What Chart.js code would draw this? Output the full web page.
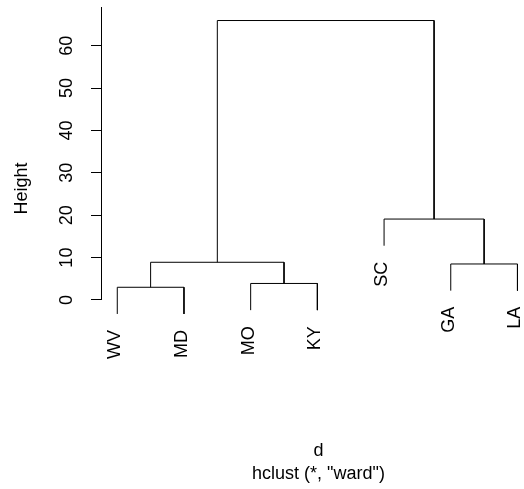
<!DOCTYPE html>
<html>
<head>
<meta charset="utf-8">
<script src="https://cdn.jsdelivr.net/npm/chart.js@4"></script>
<style>
  html, body { margin: 0; padding: 0; background: #fff; overflow: hidden; }
  canvas { display: block; }
</style>
</head>
<body>
<canvas id="dendro" width="536" height="489" style="width:536px;height:489px"></canvas>
<script>
// leaves in plotting order (position 1..7)
const leafLabels = ['WV', 'MD', 'MO', 'KY', 'SC', 'GA', 'LA'];

// merges, R style: negative = leaf position, positive = earlier merge
const mergeLeft   = [-1, -3, -6, 1, -5, 4];
const mergeRight  = [-2, -4, -7, 2, 3, 5];
const mergeHeight = [3.0, 3.9, 8.5, 8.9, 19.1, 65.95];

const yTicks = [0, 10, 20, 30, 40, 50, 60];

const FONT = '"Liberation Sans", Arial, sans-serif';

// hang = 10% of height range, like plot.hclust
const hang = 0.1 * (Math.max(...mergeHeight) - Math.min(...mergeHeight));

const clusterX = [];
function nodeX(id) {
  return id < 0 ? -id : clusterX[id - 1];
}
function nodeBottom(id, h) {
  return id < 0 ? h - hang : mergeHeight[id - 1];
}

const datasets = mergeHeight.map((h, i) => {
  const l = mergeLeft[i], r = mergeRight[i];
  const xl = nodeX(l), xr = nodeX(r);
  clusterX.push((xl + xr) / 2);
  return {
    data: [
      { x: xl, y: nodeBottom(l, h) },
      { x: xl, y: h },
      { x: xr, y: h },
      { x: xr, y: nodeBottom(r, h) }
    ],
    showLine: true,
    borderColor: '#000',
    borderWidth: 1,
    pointRadius: 0,
    tension: 0,
    fill: false,
    clip: false
  };
});

const leafPlugin = {
  id: 'leafPlugin',
  afterDraw(chart) {
    const { ctx, scales: { x, y }, chartArea } = chart;
    ctx.save();
    // vertical axis line from 0 up to the top of the plot
    const ax = Math.round(chartArea.left) + 0.5;
    ctx.strokeStyle = '#000';
    ctx.lineWidth = 1;
    ctx.beginPath();
    ctx.moveTo(ax, y.getPixelForValue(yTicks[0]));
    ctx.lineTo(ax, chartArea.top);
    ctx.stroke();

    // leaf labels, rotated, hanging under each leaf
    ctx.fillStyle = '#000';
    ctx.font = '18px ' + FONT;
    ctx.textAlign = 'right';
    ctx.textBaseline = 'middle';
    leafLabels.forEach((lab, i) => {
      const pos = i + 1;
      let h = 0;
      mergeHeight.forEach((mh, k) => {
        if (mergeLeft[k] === -pos || mergeRight[k] === -pos) h = mh;
      });
      const px = x.getPixelForValue(pos) - 2;
      const py = y.getPixelForValue(h - hang) + 16;
      ctx.save();
      ctx.translate(px, py);
      ctx.rotate(-Math.PI / 2);
      ctx.fillText(lab, 0, 0);
      ctx.restore();
    });
    ctx.restore();
  }
};

new Chart(document.getElementById('dendro'), {
  type: 'scatter',
  data: { datasets },
  options: {
    responsive: false,
    animation: false,
    layout: { padding: { top: 7, left: 0, right: 0, bottom: 0 } },
    plugins: {
      legend: { display: false },
      tooltip: { enabled: false }
    },
    scales: {
      x: {
        type: 'linear',
        min: 0.756,
        max: 7.278,
        grid: { display: false, drawTicks: false },
        border: { display: false },
        ticks: { display: false },
        title: {
          display: true,
          text: ['d', 'hclust (*, "ward")'],
          color: '#000',
          font: { family: FONT, size: 18, lineHeight: 1.28 },
          padding: { top: 0, bottom: 3 }
        },
        afterFit(scale) {
          scale.height = 119;
          scale.paddingLeft = 0;
          scale.paddingRight = 0;
        }
      },
      y: {
        type: 'linear',
        min: -16.52,
        max: 69.14,
        afterBuildTicks(scale) {
          scale.ticks = yTicks.map(v => ({ value: v }));
        },
        grid: {
          drawOnChartArea: false,
          drawTicks: true,
          tickLength: 10,
          tickColor: '#000',
          color: '#000',
          lineWidth: 1
        },
        border: { display: false },
        ticks: {
          color: '#000',
          font: { family: FONT, size: 18 },
          minRotation: 90,
          maxRotation: 90,
          crossAlign: 'center',
          padding: 13.5
        },
        title: {
          display: true,
          text: 'Height',
          color: '#000',
          font: { family: FONT, size: 18, lineHeight: 1.2 },
          padding: { top: 11, bottom: 0 }
        },
        afterFit(scale) {
          scale.width = 101;
          scale.paddingTop = 0;
          scale.paddingBottom = 0;
        }
      }
    }
  },
  plugins: [leafPlugin]
});
</script>
</body>
</html>
